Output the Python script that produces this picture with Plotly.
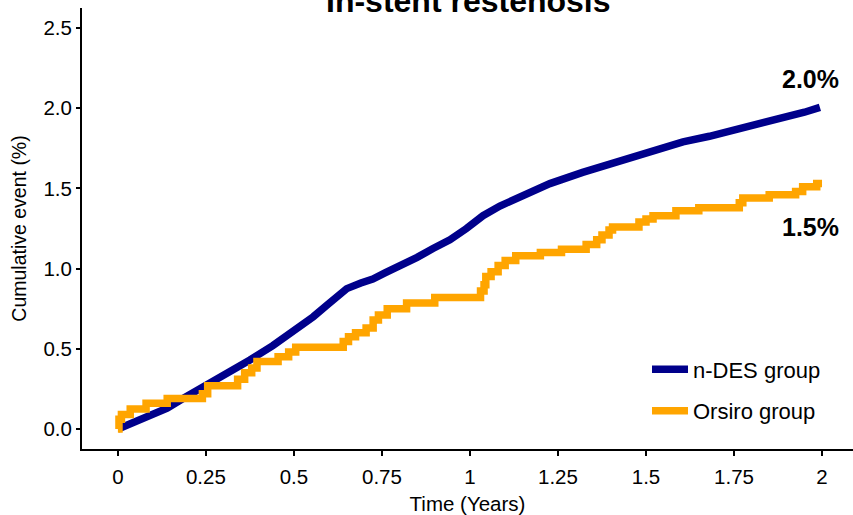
import plotly.graph_objects as go

# n-DES group (fine-stepped KM curve, traced points)
ndes_t = [0, 0.04, 0.09, 0.14, 0.185, 0.23, 0.26, 0.31, 0.375, 0.44, 0.48, 0.517, 0.555,
          0.593, 0.62, 0.65, 0.69, 0.724, 0.76, 0.8, 0.85, 0.895, 0.943, 0.99, 1.037,
          1.085, 1.15, 1.227, 1.32, 1.418, 1.51, 1.605, 1.68, 1.747, 1.82, 1.889, 1.95,
          1.994]
ndes_v = [0, 0.04, 0.08, 0.13, 0.19, 0.245, 0.28, 0.345, 0.43, 0.52, 0.58, 0.645, 0.7,
          0.77, 0.82, 0.875, 0.91, 0.935, 0.975, 1.015, 1.07, 1.125, 1.18, 1.25, 1.33,
          1.39, 1.46, 1.53, 1.6, 1.665, 1.725, 1.79, 1.825, 1.86, 1.9, 1.945, 1.975,
          2.005]

# Orsiro group (step KM curve: time of jump -> new cumulative value)
ors_t = [0, 0.003, 0.01, 0.035, 0.08, 0.14, 0.24, 0.255, 0.34, 0.36, 0.38, 0.395, 0.455,
         0.485, 0.505, 0.64, 0.655, 0.675, 0.705, 0.725, 0.74, 0.765, 0.82, 0.9, 1.03,
         1.04, 1.045, 1.06, 1.08, 1.1, 1.13, 1.2, 1.26, 1.33, 1.36, 1.375, 1.395, 1.405,
         1.48, 1.5, 1.52, 1.585, 1.65, 1.765, 1.775, 1.85, 1.925, 1.945, 1.985, 2.0]
ors_v = [0, 0.06, 0.09, 0.125, 0.16, 0.19, 0.22, 0.27, 0.31, 0.35, 0.38, 0.42, 0.45,
         0.48, 0.51, 0.545, 0.575, 0.6, 0.63, 0.68, 0.71, 0.75, 0.785, 0.82, 0.86,
         0.9, 0.95, 0.98, 1.02, 1.05, 1.08, 1.1, 1.12, 1.15, 1.18, 1.21, 1.24, 1.26,
         1.29, 1.31, 1.33, 1.36, 1.38, 1.41, 1.44, 1.46, 1.48, 1.51, 1.53, 1.53]

x_ticks = [0, 0.25, 0.5, 0.75, 1, 1.25, 1.5, 1.75, 2]
x_ticklabels = ["0", "0.25", "0.5", "0.75", "1", "1.25", "1.5", "1.75", "2"]
y_ticks = [0, 0.5, 1.0, 1.5, 2.0, 2.5]
y_ticklabels = ["0.0", "0.5", "1.0", "1.5", "2.0", "2.5"]

end_labels = ["2.0%", "1.5%"]

FONT = "Liberation Sans, Arial, sans-serif"
BLUE = "#00008B"
ORANGE = "#FFA500"

fig = go.Figure()
fig.add_trace(go.Scatter(x=ndes_t, y=ndes_v, mode="lines", name="n-DES group",
                         line=dict(color=BLUE, width=7.5), legendgroup="a"))
fig.add_trace(go.Scatter(x=ors_t, y=ors_v, mode="lines", name="Orsiro group",
                         line=dict(color=ORANGE, width=7.5, shape="hv"), legendgroup="b"))

fig.add_annotation(x=1.966, y=2.184, xref="x", yref="y", text="<b>%s</b>" % end_labels[0],
                   showarrow=False, font=dict(family=FONT, size=25, color="black"))
fig.add_annotation(x=1.966, y=1.261, xref="x", yref="y", text="<b>%s</b>" % end_labels[1],
                   showarrow=False, font=dict(family=FONT, size=25, color="black"))

fig.add_annotation(x=(468 - 82) / 771, y=1, xref="paper", yref="paper", yanchor="middle",
                   yshift=7, text="<b>In-stent restenosis</b>", showarrow=False,
                   font=dict(family=FONT, size=32, color="black"))

fig.update_layout(
    width=853, height=515,
    margin=dict(l=82, r=0, t=8, b=66),
    paper_bgcolor="white", plot_bgcolor="white",
    font=dict(family=FONT, color="black", size=20),
    showlegend=True,
    legend=dict(x=(647 - 82) / 771, y=0.228, xanchor="left", yanchor="top",
                font=dict(family=FONT, size=22, color="black"), itemwidth=36,
                bgcolor="rgba(0,0,0,0)", tracegroupgap=10),
)
fig.update_xaxes(range=[-0.102, 2.088], tickvals=x_ticks, ticktext=x_ticklabels,
                 showgrid=False, zeroline=False, showline=True, linecolor="black",
                 linewidth=2, ticks="outside", ticklen=5, tickwidth=2, tickcolor="black",
                 automargin=False, tickfont=dict(size=20.5), ticklabelstandoff=3,
                 title=dict(text="Time (Years)", font=dict(size=20.5), standoff=12))
fig.update_yaxes(range=[-0.125, 2.625], tickvals=y_ticks, ticktext=y_ticklabels,
                 showgrid=False, zeroline=False, showline=True, linecolor="black",
                 linewidth=2, ticks="outside", ticklen=4, tickwidth=2, tickcolor="black",
                 automargin=False, tickfont=dict(size=20.5),
                 title=dict(text="Cumulative event (%)", font=dict(size=19.5), standoff=12))

fig.write_html("out.html", config={"displayModeBar": False},
               post_script="document.body.style.margin='0';")
